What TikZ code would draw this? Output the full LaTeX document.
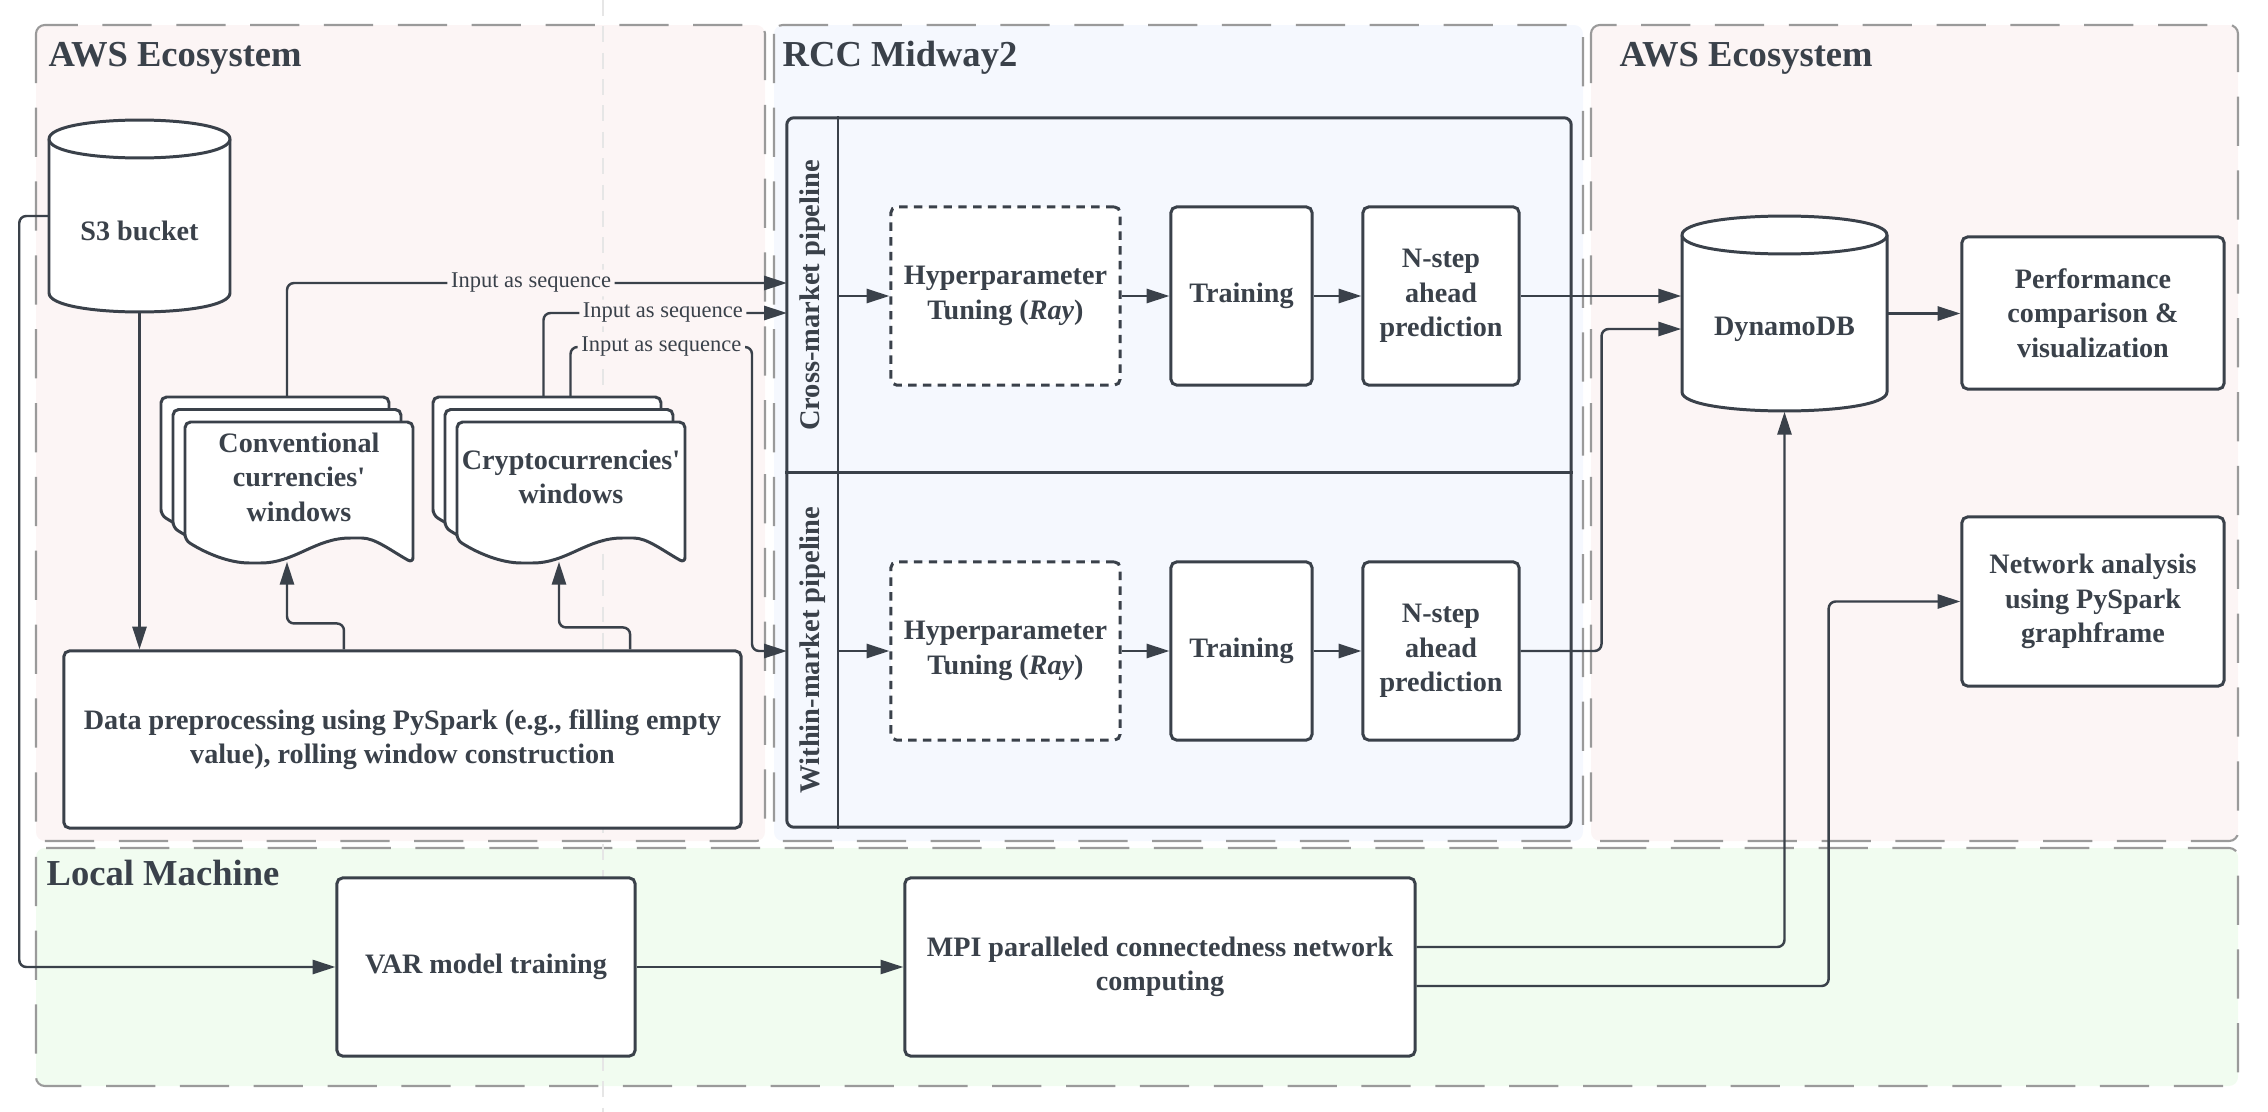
\documentclass[tikz,border=0pt]{standalone}
\usepackage{fontspec}
\setmainfont{Liberation Serif}
\usepackage{tikz}
\usetikzlibrary{arrows.meta}

\definecolor{inkgray}{HTML}{3A414A}
\definecolor{zonegray}{HTML}{9A9A9A}
\definecolor{faintgray}{HTML}{E6E6E6}
\definecolor{awsfill}{HTML}{FCF5F5}
\definecolor{rccfill}{HTML}{F5F8FE}
\definecolor{localfill}{HTML}{F1FCF0}

\tikzset{
	boxtxt/.style={font=\fontsize{8}{9.8}\selectfont\bfseries, text=inkgray, align=center},
	procbox/.style={boxtxt, draw=inkgray, line width=0.85pt, fill=white, rounded corners=1.6pt, inner sep=0pt},
	tunebox/.style={procbox, dash pattern=on 2.4pt off 1.8pt},
	lanetxt/.style={boxtxt, font=\fontsize{8.1}{9.8}\selectfont\bfseries, rotate=90},
	ghost/.style={inner sep=0pt, draw=none},
	docpage/.style={draw=inkgray, line width=0.85pt, fill=white, rounded corners=1.6pt},
	cyl/.style={draw=inkgray, line width=0.85pt, fill=white},
	arr/.style={draw=inkgray, line width=0.7pt, rounded corners=2pt, -{Triangle[length=6.5pt,width=4pt]}},
	seqlbl/.style={font=\fontsize{6.4}{7}\selectfont, text=inkgray, fill=awsfill, inner sep=1pt},
	zone/.style={draw=zonegray, line width=0.6pt, dash pattern=on 14pt off 7pt, rounded corners=2.5pt},
	zonetitle/.style={font=\fontsize{10.4}{12}\selectfont\bfseries, text=inkgray, anchor=west, inner sep=0pt}
}

\begin{document}
\begin{tikzpicture}[x=0.01cm,y=-0.01cm]
	\useasboundingbox (0,0) rectangle (2268,1112);
	%ZONES
	\filldraw[zone,fill=awsfill] (36,25) rectangle (765,841);		%left aws
	\filldraw[zone,fill=rccfill] (774,25) rectangle (1583,841);	%rcc midway2
	\filldraw[zone,fill=awsfill] (1591,25) rectangle (2238,841);	%right aws
	\filldraw[zone,fill=localfill] (36,848) rectangle (2238,1086);	%local machine
	%
	\draw[faintgray,line width=0.57pt,dash pattern=on 4.5pt off 3pt] (603,0)--(603,1112);
	%
	\node[zonetitle] (awsLtitle) at (48,58) {AWS Ecosystem};
	\node[zonetitle] (rcctitle) at (782,58) {RCC Midway2};
	\node[zonetitle] (awsRtitle) at (1619,58) {AWS Ecosystem};
	\node[zonetitle] (localtitle) at (46,873) {Local Machine};
	
	%CYLINDERS
	\draw[cyl] (49,139)--(49,293) .. controls (49,318.3) and (230,318.3) .. (230,293)
		--(230,139) .. controls (230,113.7) and (49,113.7) .. (49,139)--cycle;
	\draw[cyl] (49,139) .. controls (49,164.3) and (230,164.3) .. (230,139);	%s3 lid
	\node[ghost,minimum width=1.81cm,minimum height=1.92cm] (s3) at (139.5,216) {};
	\node[boxtxt] (s3txt) at (139.5,231) {S3 bucket};
	%
	\draw[cyl] (1682,235)--(1682,392) .. controls (1682,417.3) and (1887,417.3) .. (1887,392)
		--(1887,235) .. controls (1887,209.7) and (1682,209.7) .. (1682,235)--cycle;
	\draw[cyl] (1682,235) .. controls (1682,260.3) and (1887,260.3) .. (1887,235);	%dynamo lid
	\node[ghost,minimum width=2.05cm,minimum height=1.95cm] (dynamo) at (1784.5,313.5) {};
	\node[boxtxt] (dynamotxt) at (1784.5,329) {DynamoDB};
	
	%WINDOW STACKS
	\foreach \sx in {161,433}{
		\foreach \i in {0,1,2}{
			\begin{scope}[shift={({\sx+12*\i},{397+12.5*\i})}]
				\draw[docpage] (0,118)--(0,0)--(228,0)--(228,141)
					.. controls (205,128) and (190,116) .. (171,116)
					.. controls (130,116) and (110,141) .. (70,141)
					.. controls (45,141) and (22,132) .. (0,118)--cycle;
			\end{scope}
		}
	}
	\node[ghost,minimum width=2.52cm,minimum height=1.64cm] (conv) at (287,479) {};
	\node[ghost,minimum width=2.52cm,minimum height=1.64cm] (crypto) at (559,479) {};
	\node[boxtxt] (convtxt) at (299,477) {Conventional\\currencies\textquotesingle\\windows};
	\node[boxtxt] (cryptotxt) at (571,477) {Cryptocurrencies\textquotesingle\\windows};
	
	%PREPROCESSING
	\node[procbox,minimum width=6.77cm,minimum height=1.77cm] (pre) at (402.5,739.5)
		{Data preprocessing using PySpark (e.g., filling empty\\value), rolling window construction};
	
	%PIPELINES
	\node[draw=inkgray,line width=0.85pt,fill=rccfill,rounded corners=2pt,inner sep=0pt,
		minimum width=7.84cm,minimum height=7.09cm] (pool) at (1179,472.5) {};
	\coordinate (lanesep) at (838,0);
	\draw[inkgray,line width=0.85pt] (lanesep |- pool.north)--(lanesep |- pool.south);
	\draw[inkgray,line width=0.85pt] (pool.west)--(pool.east);
	\node[lanetxt] (laneA) at (812.5,295.5) {Cross-market pipeline};
	\node[lanetxt] (laneB) at (812.5,650) {Within-market pipeline};
	%
	\node[tunebox,minimum width=2.29cm,minimum height=1.78cm] (hypA) at (1005.5,296) {Hyperparameter\\Tuning (\textit{Ray})};
	\node[procbox,minimum width=1.41cm,minimum height=1.78cm] (trainA) at (1241.5,296) {Training};
	\node[procbox,minimum width=1.56cm,minimum height=1.78cm] (predA) at (1441,296) {N-step\\ahead\\prediction};
	\node[tunebox,minimum width=2.29cm,minimum height=1.78cm] (hypB) at (1005.5,651) {Hyperparameter\\Tuning (\textit{Ray})};
	\node[procbox,minimum width=1.41cm,minimum height=1.78cm] (trainB) at (1241.5,651) {Training};
	\node[procbox,minimum width=1.56cm,minimum height=1.78cm] (predB) at (1441,651) {N-step\\ahead\\prediction};
	
	%RIGHT SIDE
	\node[procbox,minimum width=2.62cm,minimum height=1.52cm] (perf) at (2093,313) {Performance\\comparison \&\\visualization};
	\node[procbox,minimum width=2.62cm,minimum height=1.69cm] (net) at (2093,601.5) {Network analysis\\using PySpark\\graphframe};
	
	%LOCAL MACHINE
	\node[procbox,minimum width=2.98cm,minimum height=1.78cm] (var) at (486,967) {VAR model training};
	\node[procbox,minimum width=5.10cm,minimum height=1.78cm] (mpi) at (1160,967) {MPI paralleled connectedness network\\computing};
	
	%ARROWS
	\coordinate (inA1) at (787,283);
	\coordinate (inA2) at (787,313);
	\coordinate (inB) at (787,651);
	\coordinate (seqbend) at (752,347);
	%
	\draw[arr] (s3.south)--(s3.south |- pre.north);
	\draw[arr] ([xshift=-0.585cm]pre.north)--++(0,-26) -| (conv.south);
	\draw[arr] ([xshift=2.275cm]pre.north)--++(0,-22) -| (crypto.south);
	%
	\draw[arr] (conv.north) |- node[seqlbl,pos=0.744] (seqA) {Input as sequence} (inA1);
	\draw[arr] ([xshift=-0.155cm]crypto.north) |- node[seqlbl,pos=0.745] (seqB) {Input as sequence} (inA2);
	\draw[arr] ([xshift=0.115cm]crypto.north) |- node[seqlbl,pos=0.75] (seqC) {Input as sequence} (seqbend) |- (inB);
	%
	\draw[arr] (lanesep |- hypA.west)--(hypA.west);
	\draw[arr] (hypA.east)--(trainA.west);
	\draw[arr] (trainA.east)--(predA.west);
	\draw[arr] (lanesep |- hypB.west)--(hypB.west);
	\draw[arr] (hypB.east)--(trainB.west);
	\draw[arr] (trainB.east)--(predB.west);
	%
	\draw[arr] (predA.east)--(predA.east -| dynamo.west);
	\draw[arr] (predB.east)--++(81,0) |- ([yshift=-0.155cm]dynamo.west);
	\draw[arr] (dynamo.east)--(dynamo.east -| perf.west);
	%
	\draw[arr] (s3.west)--++(-29,0) |- (var.west);
	\draw[arr] (var.east)--(mpi.west);
	\draw[arr] ([yshift=0.2cm]mpi.east) -| (dynamo.south);
	\draw[arr] ([yshift=-0.19cm]mpi.east)--++(412,0) |- (net.west);
\end{tikzpicture}
\end{document}
